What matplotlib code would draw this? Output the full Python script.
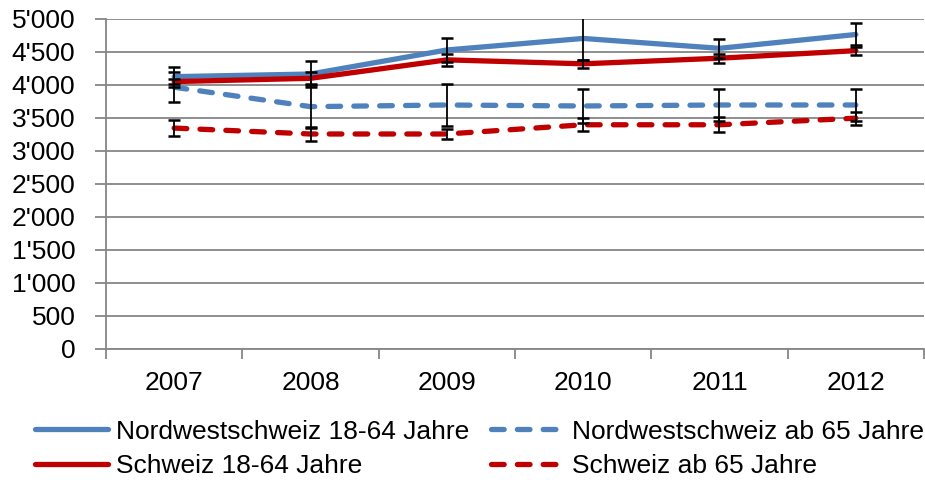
import matplotlib
matplotlib.use("Agg")
from matplotlib import pyplot as plt
from matplotlib.ticker import FuncFormatter

plt.rcParams['font.family'] = ['Liberation Sans', 'DejaVu Sans']

jahre = ['2007', '2008', '2009', '2010', '2011', '2012']

nws_18_64 = [4125, 4165, 4530, 4705, 4555, 4765]
nws_18_64_err = [150, 200, 177, 330, 141, 167]

ch_18_64 = [4050, 4100, 4380, 4320, 4405, 4520]
ch_18_64_err = [40, 90, 90, 65, 66, 60]

nws_65 = [3965, 3670, 3695, 3680, 3695, 3695]
nws_65_err = [228, 330, 313, 257, 242, 242]

ch_65 = [3345, 3255, 3255, 3395, 3395, 3495]
ch_65_err = [117, 110, 77, 100, 116, 100]

BLAU = '#4F81BD'
ROT = '#C00000'
GRAU = '#868686'
SCHRIFT = 19

serien = [
    ('Nordwestschweiz 18-64 Jahre', nws_18_64, nws_18_64_err, BLAU, '-'),
    ('Schweiz 18-64 Jahre', ch_18_64, ch_18_64_err, ROT, '-'),
    ('Nordwestschweiz ab 65 Jahre', nws_65, nws_65_err, BLAU, '--'),
    ('Schweiz ab 65 Jahre', ch_65, ch_65_err, ROT, '--'),
]

fig = plt.figure(figsize=(9.25, 4.82), dpi=100)
ax = fig.add_axes([106 / 925, 1 - 348.5 / 482, 818 / 925, 329.5 / 482])

x = list(range(len(jahre)))
for name, werte, fehler, farbe, stil in serien:
    linie, = ax.plot(x, werte, color=farbe, lw=3.8, label=name,
                     solid_capstyle='round', dash_capstyle='round', zorder=2)
    if stil == '--':
        linie.set_dashes((2.4, 2.5))
    ax.errorbar(x, werte, yerr=fehler, fmt='none', ecolor='black',
                elinewidth=1.3, capsize=4.5, capthick=1.8, zorder=3)

ax.set_ylim(0, 5000)
ax.set_xlim(-0.5, len(jahre) - 0.5)
ax.set_yticks(range(0, 5001, 500))
ax.yaxis.set_major_formatter(FuncFormatter(lambda v, p: f"{int(v):,}".replace(',', "'")))
ax.grid(axis='y', color=GRAU, lw=1.3)
ax.set_axisbelow(True)

# Striche an den Kategoriegrenzen, Beschriftung in der Mitte
ax.set_xticks([i - 0.5 for i in range(len(jahre) + 1)])
ax.set_xticklabels([])
ax.set_xticks(x, minor=True)
ax.set_xticklabels(jahre, minor=True)
ax.tick_params(axis='x', which='major', length=7, color=GRAU, width=1.3)
ax.tick_params(axis='x', which='minor', length=0, pad=16, labelsize=SCHRIFT)
ax.tick_params(axis='y', length=8, color=GRAU, width=1.3, pad=14, labelsize=SCHRIFT)

for seite in ['top', 'right']:
    ax.spines[seite].set_visible(False)
for seite in ['left', 'bottom']:
    ax.spines[seite].set_color(GRAU)
    ax.spines[seite].set_linewidth(1.3)

fig.legend(loc='center', bbox_to_anchor=(0.5 + 17 / 925, 1 - 449 / 482), ncol=2,
           frameon=False, fontsize=SCHRIFT, handlelength=2.75, handletextpad=0.3,
           columnspacing=0.85, labelspacing=0.4, borderaxespad=0)

fig.savefig('out.png', dpi=100)
